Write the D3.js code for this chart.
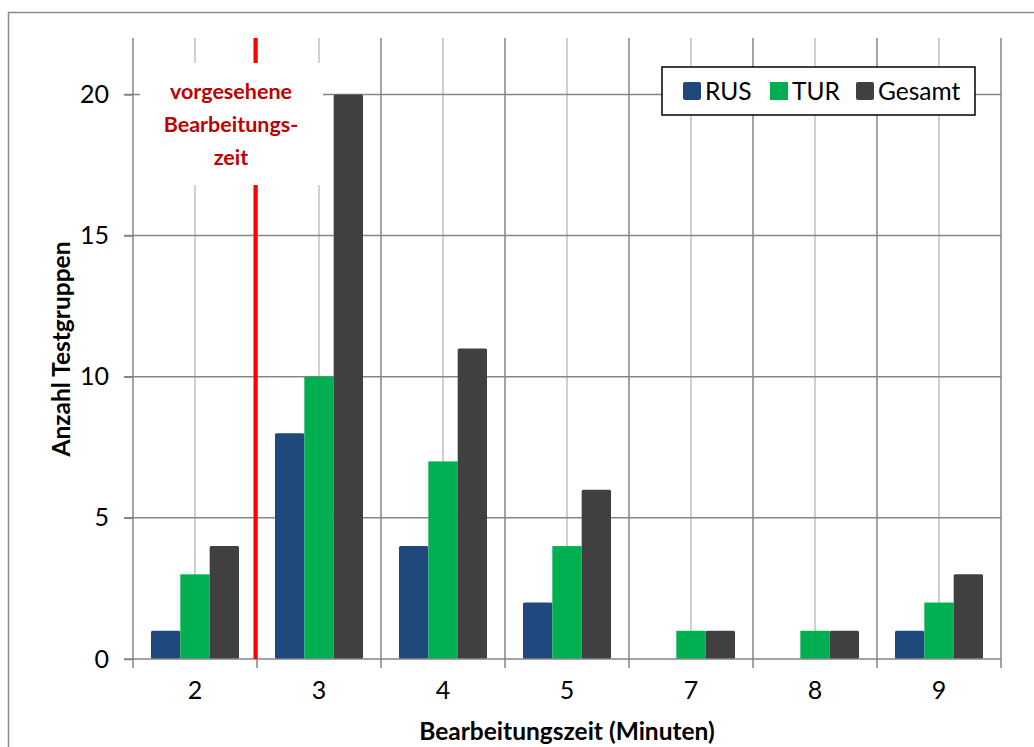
<!DOCTYPE html>
<html>
<head>
<meta charset="utf-8">
<script src="https://cdn.jsdelivr.net/npm/d3@7/dist/d3.min.js"></script>
<style>
  html, body { margin: 0; padding: 0; background: #fff; }
  svg { display: block; font-family: Lato, "Open Sans", sans-serif; }
</style>
</head>
<body>
<svg id="chart" width="1034" height="747"></svg>
<script>
// Bearbeitungszeit-Kategorien (Minuten)
const categories = ["2", "3", "4", "5", "7", "8", "9"];
// Anzahl Testgruppen je Gruppe
const seriesNames = ["RUS", "TUR", "Gesamt"];
const rusValues = [1, 8, 4, 2, 0, 0, 1];
const turValues = [3, 10, 7, 4, 1, 1, 2];
const gesamtValues = [4, 20, 11, 6, 1, 1, 3];
const yTicks = [0, 5, 10, 15, 20];
const seriesColors = ["#1F497D", "#00B050", "#404040"];
// Markierung der vorgesehenen Bearbeitungszeit (zwischen 2 und 3 Minuten)
const markerAfter = "2";
const markerLines = ["vorgesehene", "Bearbeitungs-", "zeit"];

const rows = categories.map((c, i) => ({
  cat: c,
  values: [rusValues[i], turValues[i], gesamtValues[i]]
}));

const svg = d3.select("#chart");
const plot = { left: 133, right: 1001, top: 38, bottom: 659 };

const x = d3.scaleBand().domain(categories).range([plot.left, plot.right]).padding(0);
const bw = x.bandwidth();
const xs = d3.scaleBand().domain(seriesNames).range([bw * 0.145, bw * 0.855]).padding(0);
const y = d3.scaleLinear().domain([0, 22]).range([plot.bottom, plot.top]);

const gridDark = "#868686";
const gridLight = "#c0c0c0";
const tickFont = 25;
const titleFont = 24.5;

// Rahmen
svg.append("rect")
  .attr("x", 8.5).attr("y", 12.5)
  .attr("width", 1040).attr("height", 760)
  .attr("fill", "none").attr("stroke", "#8c8c8c").attr("stroke-width", 1.5);

const grid = svg.append("g");
// Hilfslinien in der Mitte der Kategorien
grid.selectAll("line.minor").data(categories).join("line")
  .attr("x1", d => x(d) + bw / 2).attr("x2", d => x(d) + bw / 2)
  .attr("y1", plot.top).attr("y2", plot.bottom)
  .attr("stroke", gridLight).attr("stroke-width", 1.5);
// Hauptlinien an den Kategoriegrenzen
const bounds = categories.slice(1).map(d => x(d)).concat([plot.right]);
grid.selectAll("line.major").data(bounds).join("line")
  .attr("x1", d => d).attr("x2", d => d)
  .attr("y1", plot.top).attr("y2", plot.bottom + 9)
  .attr("stroke", gridDark).attr("stroke-width", 1.5);
// horizontale Gitterlinien
grid.selectAll("line.h").data(yTicks.filter(t => t > 0)).join("line")
  .attr("x1", plot.left - 9).attr("x2", plot.right)
  .attr("y1", d => y(d)).attr("y2", d => y(d))
  .attr("stroke", gridDark).attr("stroke-width", 1.5);

// Balken
const groups = svg.append("g").selectAll("g").data(rows).join("g")
  .attr("transform", d => `translate(${x(d.cat)},0)`);
groups.selectAll("rect").data(d => d.values.map((v, i) => ({ v, i })))
  .join("rect")
  .filter(d => d.v > 0)
  .attr("x", d => xs(seriesNames[d.i]))
  .attr("width", xs.bandwidth())
  .attr("y", d => y(d.v))
  .attr("height", d => y(0) - y(d.v))
  .attr("rx", d => d.i === 1 ? 0 : 1.5)
  .attr("fill", d => seriesColors[d.i]);

// Achsen
const yAxis = svg.append("g").attr("transform", `translate(${plot.left},0)`)
  .call(d3.axisLeft(y).tickValues(yTicks).tickSize(9).tickPadding(15));
yAxis.select(".domain").attr("stroke", gridDark).attr("stroke-width", 1.5)
  .attr("d", `M0,${plot.top}V${plot.bottom + 9}`);
yAxis.selectAll(".tick line").attr("stroke", gridDark).attr("stroke-width", 1.5);
yAxis.selectAll(".tick text").attr("font-size", tickFont).attr("fill", "#000")
  .attr("font-family", "Lato, sans-serif");

const xAxis = svg.append("g").attr("transform", `translate(0,${plot.bottom})`)
  .call(d3.axisBottom(x).tickSize(0).tickPadding(22));
xAxis.select(".domain").attr("stroke", gridDark).attr("stroke-width", 1.5)
  .attr("d", `M${plot.left - 9},0H${plot.right}`);
xAxis.selectAll(".tick text").attr("font-size", tickFont).attr("fill", "#000")
  .attr("font-family", "Lato, sans-serif");

// Achsentitel
svg.append("text")
  .attr("x", (plot.left + plot.right) / 2).attr("y", 740)
  .attr("text-anchor", "middle").attr("font-size", titleFont).attr("font-weight", "bold")
  .text("Bearbeitungszeit (Minuten)");
svg.append("text")
  .attr("transform", "translate(70,349) rotate(-90)")
  .attr("text-anchor", "middle").attr("font-size", titleFont).attr("font-weight", "bold")
  .text("Anzahl Testgruppen");

// rote Linie mit Beschriftung
const mx = x(markerAfter) + bw - 1.5;
svg.append("line")
  .attr("x1", mx).attr("x2", mx).attr("y1", plot.top).attr("y2", plot.bottom)
  .attr("stroke", "#ff0000").attr("stroke-width", 4);
svg.append("rect")
  .attr("x", 140).attr("y", 63).attr("width", 183).attr("height", 122)
  .attr("fill", "#fff");
const note = svg.append("text")
  .attr("text-anchor", "middle").attr("font-size", 21.5).attr("font-weight", "bold")
  .attr("fill", "#C00000");
markerLines.forEach((t, i) => {
  note.append("tspan").attr("x", 231).attr("y", 99 + i * 33).text(t);
});

// Legende
const legend = svg.append("g");
legend.append("rect")
  .attr("x", 662).attr("y", 67).attr("width", 313).attr("height", 48)
  .attr("fill", "#fff").attr("stroke", "#000").attr("stroke-width", 1.5);
const legX = [683, 770, 856];
const items = legend.selectAll("g.item").data(seriesNames).join("g")
  .attr("transform", (d, i) => `translate(${legX[i]},0)`);
items.append("rect")
  .attr("x", 0).attr("y", 82).attr("width", 18).attr("height", 18)
  .attr("rx", (d, i) => i === 1 ? 0 : 2)
  .attr("fill", (d, i) => seriesColors[i]);
items.append("text")
  .attr("x", 22).attr("y", 100).attr("font-size", titleFont).attr("fill", "#000")
  .text(d => d);
</script>
</body>
</html>
